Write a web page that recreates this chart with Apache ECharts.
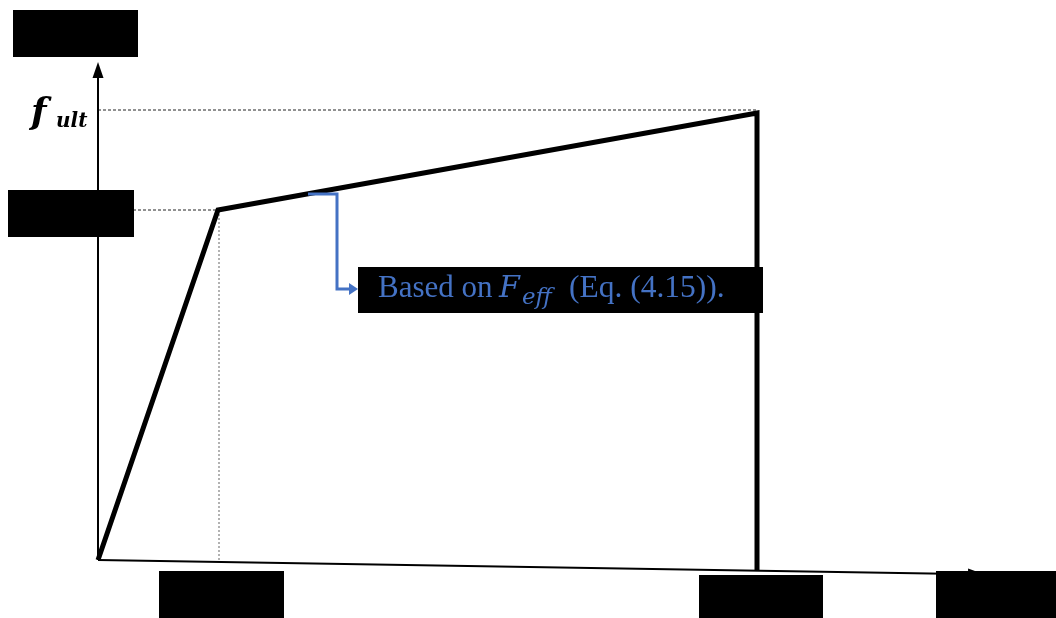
<!DOCTYPE html>
<html>
<head>
<meta charset="utf-8">
<script src="https://cdn.jsdelivr.net/npm/echarts@6/dist/echarts.min.js"></script>
<style>
  html, body { margin: 0; padding: 0; background: #fff; }
  #mainChart { width: 1056px; height: 618px; }
</style>
</head>
<body>
<div id="mainChart"></div>
<script>
// schematic stress-strain law (arbitrary units, 1 unit = 10px)
var strain = [0, 12, 65.9, 65.9];
var stress = [0, 35, 44.7, -1];
var fUlt = 45;
var fKnee = 35;
var epsKnee = 12.1;
var xAxisEnd = [87.8, -1.42];
var yAxisEnd = [0, 49.0];

var chart = echarts.init(document.getElementById("mainChart"));

var curve = strain.map(function (x, i) { return [x, stress[i]]; });

var option = {
  animation: false,
  backgroundColor: "#fff",
  grid: { left: 98, top: 60, width: 900, height: 520 },
  xAxis: { type: "value", min: 0, max: 90, show: false },
  yAxis: { type: "value", min: -2, max: 50, show: false },
  series: [
    {
      // axes with arrows
      type: "line",
      data: [],
      clip: false,
      silent: true,
      markLine: {
        silent: true,
        symbol: ["none", "triangle"],
        symbolSize: [11, 16],
        label: { show: false },
        lineStyle: { color: "#000", width: 2, type: "solid" },
        data: [
          [{ coord: [0, 0] }, { coord: yAxisEnd }],
          [{ coord: [0, 0] }, { coord: xAxisEnd }]
        ]
      }
    },
    {
      type: "line",
      data: [[0, fUlt], [strain[2], fUlt]],
      symbol: "none",
      clip: false,
      lineStyle: { color: "#222", width: 1, type: [3, 2] }
    },
    {
      type: "line",
      data: [[0, fKnee], [strain[1], fKnee]],
      symbol: "none",
      clip: false,
      lineStyle: { color: "#222", width: 1, type: [3, 2] }
    },
    {
      type: "line",
      data: [[epsKnee, fKnee], [epsKnee, 0]],
      symbol: "none",
      clip: false,
      lineStyle: { color: "#666", width: 1, type: [2, 2] }
    },
    {
      type: "line",
      data: curve,
      symbol: "none",
      clip: false,
      z: 3,
      lineStyle: { color: "#000", width: 5, join: "miter" }
    }
  ],
  graphic: [
    // redaction boxes
    { type: "rect", z: 100, shape: { x: 13, y: 10, width: 125, height: 47 }, style: { fill: "#000" } },
    { type: "rect", z: 100, shape: { x: 8, y: 190, width: 126, height: 47 }, style: { fill: "#000" } },
    { type: "rect", z: 100, shape: { x: 159, y: 571, width: 125, height: 47 }, style: { fill: "#000" } },
    { type: "rect", z: 100, shape: { x: 699, y: 575, width: 124, height: 43 }, style: { fill: "#000" } },
    { type: "rect", z: 100, shape: { x: 936, y: 571, width: 120, height: 47 }, style: { fill: "#000" } },
    { type: "rect", z: 100, shape: { x: 358, y: 267, width: 405, height: 46 }, style: { fill: "#000" } },
    // f_ult label
    { type: "text", z: 101, x: 31, y: 114, style: { text: "f", fill: "#000", font: "italic bold 36px 'DejaVu Serif'", verticalAlign: "middle" } },
    { type: "text", z: 101, x: 56, y: 122, style: { text: "ult", fill: "#000", font: "italic bold 20px 'DejaVu Serif'", verticalAlign: "middle" } },
    // annotation
    { type: "polyline", z: 101, shape: { points: [[308, 194], [337, 194], [337, 289], [351, 289]] }, style: { stroke: "#4472C4", lineWidth: 3, fill: null } },
    { type: "polygon", z: 101, shape: { points: [[349, 283], [358, 289], [349, 295]] }, style: { fill: "#4472C4" } },
    { type: "text", z: 101, x: 378, y: 289, style: { text: "Based on", fill: "#4472C4", font: "31px 'Liberation Serif'", verticalAlign: "middle" } },
    { type: "text", z: 101, x: 499, y: 289, style: { text: "F", fill: "#4472C4", font: "italic 30px 'DejaVu Serif'", verticalAlign: "middle" } },
    { type: "text", z: 101, x: 522, y: 298, style: { text: "eff", fill: "#4472C4", font: "italic 23px 'DejaVu Serif'", verticalAlign: "middle" } },
    { type: "text", z: 101, x: 569, y: 289, style: { text: "(Eq. (4.15)).", fill: "#4472C4", font: "31.5px 'Liberation Serif'", verticalAlign: "middle" } }
  ]
};

chart.setOption(option);
</script>
</body>
</html>
